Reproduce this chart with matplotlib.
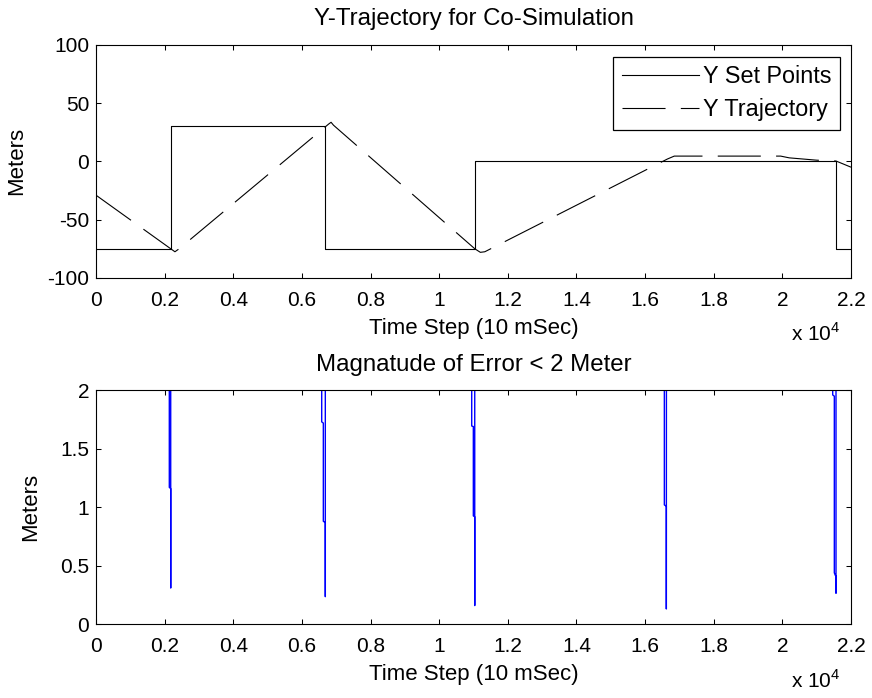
import numpy as np
import matplotlib.pyplot as plt
from matplotlib.ticker import FuncFormatter

plt.rcParams['font.family'] = ['Liberation Sans', 'DejaVu Sans']
plt.rcParams['font.size'] = 15
plt.rcParams['lines.scale_dashes'] = False

# Set points (step changes) in time steps
sp_t = [0, 2180, 6685, 11040, 21563, 22000]
sp_y = [-75, 30, -75, 0, -75, -75]

# Y trajectory vertices
traj_t = [0, 2180, 2300, 2420, 6780, 6850, 6920, 11040, 11200, 11330,
          16650, 16850, 19950, 20200, 21000, 21563, 22000]
traj_y = [-29, -75, -77.5, -75, 32, 33.5, 31, -75, -78, -77.5,
          2, 4.5, 4.5, 3, 1, 0.3, -5]

# Error magnitude near each set point change (values above 2 are off scale)
err1_t = [2136, 2136, 2177, 2177, 2180]
err1_y = [3, 1.17, 1.16, 0.31, 105]
err2_t = [6577, 6577, 6624, 6624, 6682, 6682, 6685]
err2_y = [3, 1.73, 1.72, 0.88, 0.87, 0.236, 105]
err3_t = [10948, 10948, 10995, 10995, 11036, 11036, 11040]
err3_y = [3, 1.695, 1.69, 0.926, 0.92, 0.16, 75]
err4_t = [16561, 16561, 16619, 16619, 16623]
err4_y = [3, 1.02, 1.01, 0.131, 3]
err5_t = [21467, 21467, 21514, 21514, 21540, 21563, 21563, 21566]
err5_y = [3, 1.96, 1.95, 0.44, 0.42, 0.41, 0.265, 75]

spikes = [(err1_t, err1_y), (err2_t, err2_y), (err3_t, err3_y),
          (err4_t, err4_y), (err5_t, err5_y)]
err_t, err_y = [], []
for t, e in spikes:
    err_t += t + [np.nan]
    err_y += e + [np.nan]

fig = plt.figure(figsize=(8.72, 6.98), dpi=100)
ax1 = fig.add_axes([96 / 872, 1 - 278 / 698, 755 / 872, 233.3 / 698])
ax2 = fig.add_axes([96 / 872, 1 - 624.3 / 698, 755 / 872, 234 / 698])

ax1.plot(sp_t, sp_y, drawstyle='steps-post', color='k', lw=0.8, label='Y Set Points')
ax1.plot(traj_t, traj_y, color='k', lw=0.8, dashes=(31, 11), label='Y Trajectory')
ax1.set_ylim(-100, 100)
ax1.set_yticks([-100, -50, 0, 50, 100])
ax1.set_title('Y-Trajectory for Co-Simulation', fontsize=17.3, pad=13.9)
leg = ax1.legend(loc='upper right', bbox_to_anchor=(0.9854, 0.9486), borderaxespad=0,
                 fancybox=False, framealpha=1, edgecolor='k', fontsize=16.8,
                 handlelength=3.3, handletextpad=0.2, labelspacing=0.45, borderpad=0.35)
leg.get_frame().set_linewidth(0.9)

ax2.plot(err_t, err_y, color='b', lw=1.0)
ax2.set_ylim(0, 2)
ax2.set_yticks([0, 0.5, 1, 1.5, 2])
ax2.set_title('Magnatude of Error < 2 Meter', fontsize=17.3, pad=13.9)

fmt = FuncFormatter(lambda v, p: '%g' % v)
for ax, ylab_x in ((ax1, -0.1046), (ax2, -0.086)):
    ax.set_xlim(0, 22000)
    ax.set_xticks(np.arange(0, 22001, 2000))
    ax.xaxis.set_major_formatter(FuncFormatter(lambda v, p: '%g' % (v / 1e4)))
    ax.yaxis.set_major_formatter(fmt)
    ax.tick_params(direction='in', top=True, right=True, length=3.6, width=0.75)
    ax.tick_params(axis='x', pad=9.4)
    ax.tick_params(axis='y', pad=4.8)
    for s in ax.spines.values():
        s.set_linewidth(0.8)
    ax.set_xlabel('Time Step (10 mSec)', fontsize=16)
    ax.xaxis.label.set_va('baseline')
    ax.xaxis.set_label_coords(0.5, -0.24)
    ax.set_ylabel('Meters', fontsize=16)
    ax.yaxis.label.set_va('center')
    ax.yaxis.set_label_coords(ylab_x, 0.5)
    ax.text(0.9854, -0.27, r'x 10$^{\mathregular{4}}$', transform=ax.transAxes,
            ha='right', va='baseline', fontsize=15)

fig.savefig('out.png', dpi=100)
